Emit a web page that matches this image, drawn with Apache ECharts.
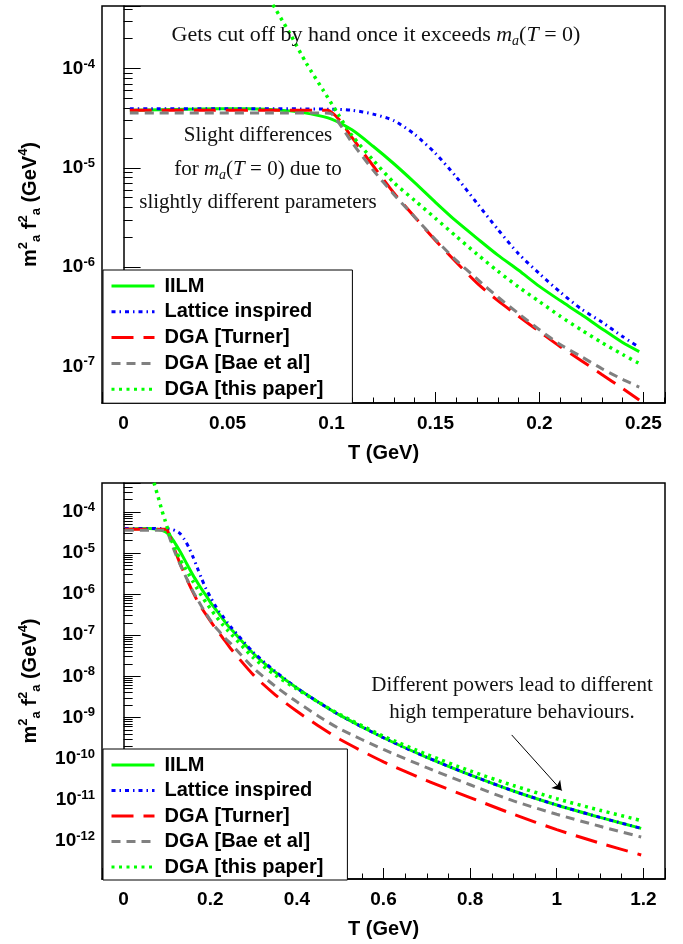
<!DOCTYPE html>
<html>
<head>
<meta charset="utf-8">
<script src="https://cdn.jsdelivr.net/npm/echarts@6/dist/echarts.min.js"></script>
<style>
  html, body { margin: 0; padding: 0; background: #fff; }
  #chart { width: 683px; height: 944px; }
</style>
</head>
<body>
<div id="chart"></div>
<script>
// m_a^2 f_a^2 (GeV^4) against T (GeV) as [T, value]
var iilmLow = [[0.003, 3.8e-5], [0.03, 3.9e-5], [0.06, 3.95e-5], [0.08, 3.75e-5], [0.09, 3.5e-5], [0.1, 3.1e-5],
  [0.11, 2.4e-5], [0.12, 1.65e-5], [0.13, 1.1e-5], [0.14, 7.1e-6], [0.15, 4.5e-6], [0.16, 2.9e-6], [0.17, 1.95e-6],
  [0.18, 1.32e-6], [0.19, 9.3e-7], [0.2, 6.4e-7], [0.21, 4.6e-7], [0.22, 3.35e-7], [0.23, 2.4e-7], [0.24, 1.74e-7], [0.248, 1.41e-7]];
var latticeLow = [[0.003, 3.95e-5], [0.05, 3.95e-5], [0.1, 3.9e-5], [0.11, 3.8e-5], [0.12, 3.48e-5], [0.13, 2.99e-5],
  [0.14, 2.17e-5], [0.15, 1.4e-5], [0.16, 8.1e-6], [0.17, 4.4e-6], [0.18, 2.4e-6], [0.19, 1.36e-6], [0.2, 8.6e-7],
  [0.21, 5.6e-7], [0.22, 3.8e-7], [0.23, 2.8e-7], [0.24, 2.0e-7], [0.248, 1.56e-7]];
var turnerLow = [[0.003, 3.8e-5], [0.098, 3.8e-5], [0.104, 3.0e-5], [0.11, 2.0e-5], [0.12, 1.05e-5], [0.13, 5.6e-6],
  [0.14, 3.2e-6], [0.15, 1.86e-6], [0.16, 1.12e-6], [0.17, 6.9e-7], [0.18, 4.6e-7], [0.19, 3.2e-7], [0.2, 2.24e-7],
  [0.21, 1.58e-7], [0.22, 1.15e-7], [0.23, 8.3e-8], [0.24, 6.0e-8], [0.248, 4.6e-8]];
var baeLow = [[0.003, 3.57e-5], [0.097, 3.57e-5], [0.1, 3.5e-5], [0.11, 1.78e-5], [0.12, 9.5e-6], [0.13, 5.4e-6],
  [0.14, 3.2e-6], [0.15, 1.9e-6], [0.16, 1.17e-6], [0.17, 7.6e-7], [0.18, 5.0e-7], [0.19, 3.4e-7], [0.2, 2.34e-7],
  [0.21, 1.66e-7], [0.22, 1.26e-7], [0.23, 9.5e-8], [0.24, 7.4e-8], [0.248, 6.2e-8]];
var thisPaperLow = [[0.07, 5.1e-4], [0.08, 2.25e-4], [0.088, 1.12e-4], [0.096, 6.05e-5], [0.103, 3.52e-5], [0.11, 2.1e-5],
  [0.12, 1.2e-5], [0.13, 7.1e-6], [0.14, 4.7e-6], [0.15, 3.1e-6], [0.16, 2.04e-6], [0.17, 1.35e-6], [0.18, 9.1e-7],
  [0.19, 6.3e-7], [0.2, 4.5e-7], [0.21, 3.2e-7], [0.22, 2.34e-7], [0.23, 1.74e-7], [0.24, 1.32e-7], [0.248, 1.07e-7]];

// high temperature tails, only in the lower panel
var iilmHigh = [[0.3, 3.55e-8], [0.35, 1.26e-8], [0.4, 5.2e-9], [0.45, 2.34e-9], [0.5, 1.12e-9], [0.6, 3.2e-10],
  [0.7, 1.07e-10], [0.8, 4.0e-11], [0.9, 1.62e-11], [1.0, 7.4e-12], [1.1, 3.7e-12], [1.195, 2.0e-12]];
var latticeHigh = [[0.3, 3.8e-8], [0.35, 1.32e-8], [0.4, 5.2e-9], [0.45, 2.34e-9], [0.5, 1.12e-9], [0.6, 3.2e-10],
  [0.7, 1.07e-10], [0.8, 4.0e-11], [0.9, 1.62e-11], [1.0, 7.4e-12], [1.1, 3.7e-12], [1.195, 2.0e-12]];
var turnerHigh = [[0.3, 1.07e-8], [0.35, 3.55e-9], [0.4, 1.41e-9], [0.45, 6.2e-10], [0.5, 2.9e-10], [0.6, 8.3e-11],
  [0.7, 2.9e-11], [0.8, 1.12e-11], [0.9, 4.4e-12], [1.0, 1.86e-12], [1.1, 8.7e-13], [1.195, 4.5e-13]];
var baeHigh = [[0.3, 1.58e-8], [0.35, 5.75e-9], [0.4, 2.4e-9], [0.45, 1.07e-9], [0.5, 5.2e-10], [0.6, 1.66e-10],
  [0.7, 6.0e-11], [0.8, 2.3e-11], [0.9, 9.3e-12], [1.0, 4.4e-12], [1.1, 2.24e-12], [1.195, 1.23e-12]];
var thisPaperHigh = [[0.3, 2.8e-8], [0.35, 1.07e-8], [0.4, 4.9e-9], [0.45, 2.34e-9], [0.5, 1.17e-9], [0.6, 3.5e-10],
  [0.7, 1.26e-10], [0.8, 5.0e-11], [0.9, 2.2e-11], [1.0, 1.05e-11], [1.1, 5.5e-12], [1.195, 3.1e-12]];

var names = ['IILM', 'Lattice inspired', 'DGA [Turner]', 'DGA [Bae et al]', 'DGA [this paper]'];
var arrowFrom = [0.896, 3.75e-10];
var arrowTo = [1.0115, 1.66e-11];

var SANS = "'Liberation Sans', Arial, Helvetica, sans-serif";
var SERIF = "'Liberation Serif', 'DejaVu Serif', serif";

var lowSets = [iilmLow, latticeLow, turnerLow, baeLow, thisPaperLow];
var highSets = [iilmHigh, latticeHigh, turnerHigh, baeHigh, thisPaperHigh];
var styles = [
  { color: '#00ff00', type: 'solid', width: 3 },
  { color: '#0000ff', type: [4, 4, 1.5, 4], width: 3 },
  { color: '#ff0000', type: [22, 10], width: 3 },
  { color: '#808080', type: [9, 6], width: 3 },
  { color: '#00ff00', type: [3, 4.5], width: 3.5 }
];

function logLabel(v) {
  var l = Math.log10(v);
  var e = Math.round(l);
  if (Math.abs(l - e) > 1e-6) return '';
  return '{b|10}{s|' + e + '}';
}

var tickRich = {
  b: { fontFamily: SANS, fontWeight: 'bold', fontSize: 19, color: '#000', lineHeight: 22 },
  s: { fontFamily: SANS, fontWeight: 'bold', fontSize: 13, color: '#000', lineHeight: 12, verticalAlign: 'top' }
};
var nameRich = {
  b: { fontFamily: SANS, fontWeight: 'bold', fontSize: 20, color: '#000', lineHeight: 26 },
  sup: { fontFamily: SANS, fontWeight: 'bold', fontSize: 13, color: '#000', lineHeight: 13, verticalAlign: 'top' },
  sub: { fontFamily: SANS, fontWeight: 'bold', fontSize: 13, color: '#000', lineHeight: 13, verticalAlign: 'bottom' }
};
var yName = '{b|m}{sup|2}{sub|a}{b| f}{sup|2}{sub|a}{b| (GeV}{sup|4}{b|)}';

function xAxisFor(i, min, max, split, minorSplit) {
  return {
    type: 'value', gridIndex: i, min: min, max: max, splitNumber: split,
    axisLine: { show: true, lineStyle: { color: '#000', width: 1.5 } },
    axisTick: { inside: true, length: 11, lineStyle: { color: '#000', width: 1 } },
    minorTick: { show: true, splitNumber: minorSplit, length: 5.5, lineStyle: { color: '#000', width: 1 } },
    splitLine: { show: false },
    axisLabel: { showMinLabel: false, showMaxLabel: false, margin: 11, color: '#000',
      fontFamily: SANS, fontWeight: 'bold', fontSize: 19 },
    name: 'T (GeV)', nameLocation: 'middle', nameGap: 40,
    nameTextStyle: { fontFamily: SANS, fontWeight: 'bold', fontSize: 20, color: '#000' }
  };
}

function yAxisFor(i, min, max) {
  return {
    type: 'log', logBase: 10, gridIndex: i, min: min, max: max,
    axisLine: { show: true, lineStyle: { color: '#000', width: 1.5 } },
    axisTick: { inside: true, length: 17, lineStyle: { color: '#000', width: 1 } },
    minorTick: { show: true, splitNumber: 9, length: 9, lineStyle: { color: '#000', width: 1 } },
    splitLine: { show: false },
    minorSplitLine: { show: false },
    axisLabel: { formatter: logLabel, rich: tickRich, margin: 7, showMinLabel: false, showMaxLabel: false },
    name: yName, nameLocation: 'middle', nameGap: 59,
    nameTextStyle: { rich: nameRich }
  };
}

function legendFor(top, gap, padBottom, padRight) {
  return {
    data: names, orient: 'vertical', left: 103, top: top,
    padding: [6, padRight, padBottom, 7], itemGap: gap, itemWidth: 43, itemHeight: 20,
    backgroundColor: '#fff', borderColor: '#000', borderWidth: 1, borderRadius: 0,
    selectedMode: false,
    itemStyle: { opacity: 0, borderWidth: 0 },
    lineStyle: { width: 3 },
    textStyle: { fontFamily: SANS, fontWeight: 'bold', fontSize: 20, color: '#000', lineHeight: 20, padding: [0, 0, 0, 5] }
  };
}

var series = [];
for (var k = 0; k < names.length; k++) {
  for (var g = 0; g < 2; g++) {
    var s = {
      name: names[k], type: 'line', xAxisIndex: g, yAxisIndex: g,
      data: g === 0 ? lowSets[k] : lowSets[k].concat(highSets[k]),
      showSymbol: false, symbol: 'none', smooth: 0.25, clip: true,
      lineStyle: { color: styles[k].color, type: styles[k].type, width: styles[k].width },
      itemStyle: { color: styles[k].color }
    };
    if (g === 1 && k === 0) {
      s.markLine = {
        silent: true, symbol: ['none', 'arrow'], symbolSize: 9,
        label: { show: false },
        lineStyle: { color: '#000', width: 1, type: 'solid' },
        data: [[{ coord: arrowFrom }, { coord: arrowTo }]]
      };
    }
    series.push(s);
  }
}

function note(x, y, text, size) {
  size = size || 21;
  return {
    type: 'text', x: x, y: y, z: 10,
    style: {
      text: text, align: 'center', verticalAlign: 'middle', fill: '#111',
      fontFamily: SERIF, fontSize: size, lineHeight: 26,
      rich: {
        it: { fontFamily: SERIF, fontStyle: 'italic', fontSize: size, fill: '#111', lineHeight: 26 },
        sub: { fontFamily: SERIF, fontStyle: 'italic', fontSize: 14, fill: '#111', lineHeight: 14, verticalAlign: 'bottom' }
      }
    }
  };
}

var option = {
  animation: false,
  backgroundColor: '#fff',
  grid: [
    { left: 102, top: 6, width: 563, height: 397, show: true, borderColor: '#000', borderWidth: 1.5, backgroundColor: 'transparent' },
    { left: 102, top: 483, width: 563, height: 396, show: true, borderColor: '#000', borderWidth: 1.5, backgroundColor: 'transparent' }
  ],
  xAxis: [xAxisFor(0, -0.0104, 0.2604, 5, 5), xAxisFor(1, -0.05, 1.25, 6, 4)],
  yAxis: [yAxisFor(0, 4.28e-8, 4.27e-4), yAxisFor(1, 1.17e-13, 5.06e-4)],
  legend: [legendFor(270, 5.8, 4, 29), legendFor(749, 5.5, 3, 24)],
  graphic: [
    note(376, 35, 'Gets cut off by hand once it exceeds {it|m}{sub|a}({it|T} = 0)', 22),
    note(258, 135, 'Slight differences'),
    note(258, 169, 'for {it|m}{sub|a}({it|T} = 0) due to'),
    note(258, 202, 'slightly different parameters'),
    note(512, 685, 'Different powers lead to different'),
    note(512, 712, 'high temperature behaviours.')
  ],
  series: series
};

var chart = echarts.init(document.getElementById('chart'));
chart.setOption(option);
</script>
</body>
</html>
